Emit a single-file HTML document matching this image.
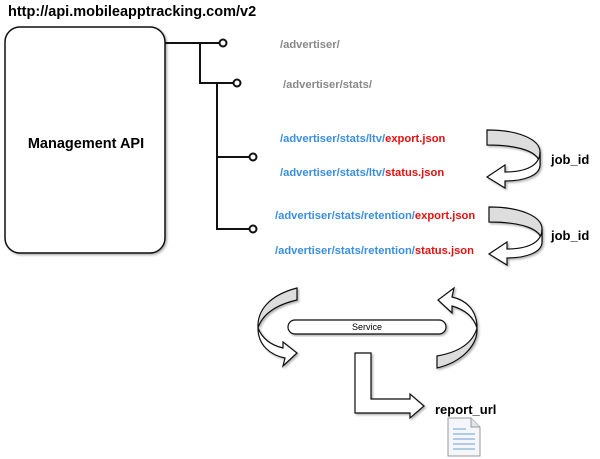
<!DOCTYPE html>
<html><head><style>
html,body{margin:0;padding:0;background:#fff;}
svg{display:block;font-family:"Liberation Sans",sans-serif;}
</style></head><body>
<svg width="600" height="459" viewBox="0 0 600 459">
<defs>
<filter id="sh" x="-20%" y="-20%" width="140%" height="140%"><feDropShadow dx="1.5" dy="1.5" stdDeviation="1" flood-color="#000" flood-opacity="0.3"/></filter>
<g id="carr">
<path d="M0,0 C33,0 53,10 53,22 L53,35 C53,22 33,15 0,15 Z" fill="#ddd" stroke="#111" stroke-width="1.2"/>
<path d="M53,22 C53,36 38,42 18,42 L18,35 L0,47 L18,58 L18,51 C38,51 53,45 53,35 Z" fill="#fff" stroke="#111" stroke-width="1.2"/>
</g>
</defs>
<text x="8" y="16" font-size="14.5" font-weight="bold">http://api.mobileapptracking.com/v2</text>
<rect x="5" y="27" width="160" height="226" rx="15" fill="#fff" stroke="#111" stroke-width="1.5" filter="url(#sh)"/>
<text x="86" y="148" font-size="14.5" font-weight="bold" text-anchor="middle">Management API</text>
<g stroke="#111" stroke-width="2" fill="none">
<path d="M165,43 H220 M200,43 V83 H234 M217,83 V229 H250 M217,157 H250"/>
</g>
<g stroke="#111" stroke-width="2" fill="#fff">
<circle cx="223" cy="43" r="3.5"/><circle cx="237" cy="83" r="3.5"/>
<circle cx="253" cy="157" r="3.5"/><circle cx="253" cy="229" r="3.5"/>
</g>
<g font-size="11.2" font-weight="bold">
<text x="280" y="48" fill="#888">/advertiser/</text>
<text x="283" y="88" fill="#888">/advertiser/stats/</text>
<text x="280" y="142"><tspan fill="#3a8ee0">/advertiser/stats/ltv/</tspan><tspan fill="#e51010">export.json</tspan></text>
<text x="280" y="176"><tspan fill="#3a8ee0">/advertiser/stats/ltv/</tspan><tspan fill="#e51010">status.json</tspan></text>
<text x="275" y="219"><tspan fill="#3a8ee0">/advertiser/stats/retention/</tspan><tspan fill="#e51010">export.json</tspan></text>
<text x="275" y="254"><tspan fill="#3a8ee0">/advertiser/stats/retention/</tspan><tspan fill="#e51010">status.json</tspan></text>
</g>
<use href="#carr" x="487" y="130" filter="url(#sh)"/>
<use href="#carr" x="489" y="207" filter="url(#sh)"/>
<text x="551" y="164" font-size="13" font-weight="bold">job_id</text>
<text x="551" y="240" font-size="13" font-weight="bold">job_id</text>
<rect x="288" y="320" width="158" height="14" rx="7" fill="#fff" stroke="#111" stroke-width="1.2" filter="url(#sh)"/>
<text x="367" y="330" font-size="9" text-anchor="middle">Service</text>
<g filter="url(#sh)">
<path d="M297,288 C270,295 257,310 258,328 C262,315 275,305 297,300 Z" fill="#ddd" stroke="#111" stroke-width="1.2"/>
<path d="M258,328 C258,345 270,355 285,358 L283,366 L297,353 L283,342 L283,348 C270,345 262,338 258,328 Z" fill="#fff" stroke="#111" stroke-width="1.2"/>
<path d="M437,368 C462,362 478,345 477,328 C473,342 460,352 437,356 Z" fill="#ddd" stroke="#111" stroke-width="1.2"/>
<path d="M477,328 C477,310 466,300 452,297 L454,288 L438,300 L452,313 L452,306 C466,310 474,318 477,328 Z" fill="#fff" stroke="#111" stroke-width="1.2"/>
<path d="M355,353 H371 V399 H410 V394 L424,406 L410,418 V413 H355 Z" fill="#fff" stroke="#111" stroke-width="1.2"/>
</g>
<text x="435" y="414" font-size="13" font-weight="bold">report_url</text>
<g>
<path d="M448,418 H471 L480,427 V456 H448 Z" fill="#f4f6fa" stroke="#999" stroke-width="1"/>
<path d="M471,418 V427 H480" fill="#e0e4ea" stroke="#999" stroke-width="1"/>
<g stroke="#8ab0dc" stroke-width="1.2">
<line x1="453" y1="429" x2="466" y2="429"/><line x1="453" y1="434" x2="475" y2="434"/>
<line x1="453" y1="439" x2="475" y2="439"/><line x1="453" y1="444" x2="475" y2="444"/>
<line x1="453" y1="449" x2="475" y2="449"/>
</g>
</g>
</svg>
</body></html>
